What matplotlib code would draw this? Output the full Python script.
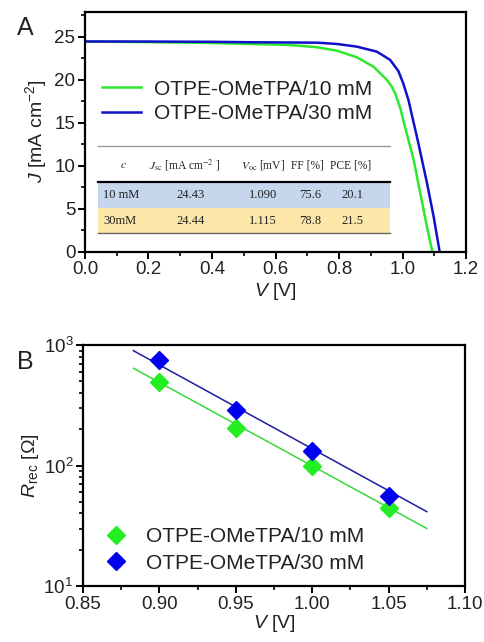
import numpy as np
import matplotlib
matplotlib.use("Agg")
import matplotlib.pyplot as plt
from matplotlib.patches import Rectangle
from matplotlib.lines import Line2D
from matplotlib.ticker import MultipleLocator, LogLocator, NullFormatter

plt.rcParams['font.family'] = ['Liberation Sans', 'DejaVu Sans']
plt.rcParams['mathtext.fontset'] = 'custom'
plt.rcParams['mathtext.rm'] = 'Liberation Sans'
plt.rcParams['mathtext.it'] = 'Liberation Sans:italic'

# J-V curves
v_10 = [0.0, 0.2, 0.4, 0.52, 0.646, 0.73, 0.793, 0.856, 0.909, 0.951, 0.965, 0.977, 0.993,
        1.008, 1.035, 1.056, 1.077, 1.094]
j_10 = [24.43, 24.36, 24.26, 24.15, 24.03, 23.77, 23.37, 22.6, 21.5, 19.97, 19.25, 18.4, 16.7,
        14.5, 10.7, 6.8, 2.9, 0.0]
v_30 = [0.0, 0.2, 0.4, 0.52, 0.73, 0.793, 0.856, 0.919, 0.961, 0.987, 1.003, 1.019, 1.05,
        1.077, 1.098, 1.117]
j_30 = [24.44, 24.43, 24.4, 24.35, 24.3, 24.15, 23.84, 23.26, 22.3, 21.0, 19.5, 17.6, 12.6,
        8.0, 4.1, 0.0]

# photovoltaic parameters table
table_header = ["$c$", "$J_{\\rm sc}$ [mA cm$^{-2}$ ]", "$V_{\\rm oc}$ [mV]", "FF [%]", "PCE [%]"]
table_rows = [["10 mM", "24.43", "1.090", "75.6", "20.1"],
              ["30mM", "24.44", "1.115", "78.8", "21.5"]]

# recombination resistance, panel B
v_rec = [0.90, 0.95, 1.00, 1.05]
r_10 = [495, 204, 100, 44]
r_30 = [752, 289, 133, 56]
# linear fits on log scale, end points as drawn
v_fit = [0.883, 1.075]
fit_10 = [641, 30]
fit_30 = [897, 41.4]

labels = ["OTPE-OMeTPA/10 mM", "OTPE-OMeTPA/30 mM"]
green = "#2ee82e"
blue = "#1010c8"
txt = "#222222"

fig = plt.figure(figsize=(4.85, 6.42), dpi=100)

def style_axes(ax):
    for s in ax.spines.values():
        s.set_linewidth(1.6)
    ax.tick_params(which='major', direction='out', length=5, width=1.4, labelsize=13.5,
                   colors='black', labelcolor=txt, pad=2)
    ax.tick_params(which='minor', direction='out', length=3, width=1.2)
    ax.tick_params(top=False, right=False, which='both')

# ---------- panel A ----------
axA = fig.add_axes([85/485, 1-251.7/642, 381/485, 240/642])
axA.plot(v_10, j_10, color=green, lw=1.8, label=labels[0], solid_joinstyle='round')
axA.plot(v_30, j_30, color=blue, lw=1.8, label=labels[1], solid_joinstyle='round')
axA.set_xlim(0, 1.2)
axA.set_ylim(0, 27.9)
axA.xaxis.set_major_locator(MultipleLocator(0.2))
axA.xaxis.set_minor_locator(MultipleLocator(0.1))
axA.yaxis.set_major_locator(MultipleLocator(5))
axA.yaxis.set_minor_locator(MultipleLocator(2.5))
axA.xaxis.set_major_formatter(plt.FormatStrFormatter('%.1f'))
style_axes(axA)
axA.set_xlabel("$V$ [V]", fontsize=14, color=txt, labelpad=2)
axA.set_ylabel("$J$ [mA cm$^{-2}$]", fontsize=14, color=txt, labelpad=4)
axA.legend(loc='upper left', bbox_to_anchor=(-0.005, 0.795), frameon=False, fontsize=15,
           handlelength=1.9, handletextpad=0.6, labelspacing=0.28, labelcolor=txt)

# table
tr = axA.transAxes
x_left, x_right = 0.033, 0.80
y_top, y_thick, y_mid, y_bot = 0.442, 0.292, 0.181, 0.077
axA.add_patch(Rectangle((x_left, y_mid), x_right - x_left, y_thick - y_mid, transform=tr,
                        facecolor="#c6d6ec", edgecolor='none', zorder=3))
axA.add_patch(Rectangle((x_left, y_bot), x_right - x_left, y_mid - y_bot, transform=tr,
                        facecolor="#fce7a9", edgecolor='none', zorder=3))
axA.add_line(Line2D([x_left, x_right], [y_top, y_top], transform=tr, color="#9a9a9a", lw=1.0, zorder=4))
axA.add_line(Line2D([x_left, x_right], [y_thick, y_thick], transform=tr, color="black", lw=1.6, zorder=4))
axA.add_line(Line2D([x_left, x_right], [y_bot, y_bot], transform=tr, color="#666666", lw=1.0, zorder=4))
head_x = [0.10, 0.262, 0.467, 0.585, 0.697]
for x, h in zip(head_x, table_header):
    axA.text(x, 0.361, h, transform=tr, ha='center', va='center', fontsize=8.3,
             family='Liberation Serif', math_fontfamily='stix', color=txt, zorder=5)
col_x = [0.047, 0.276, 0.467, 0.59, 0.703]
for row, y in zip(table_rows, [0.236, 0.128]):
    for i, (x, s) in enumerate(zip(col_x, row)):
        axA.text(x, y, s, transform=tr, ha='left' if i == 0 else 'center', va='center',
                 fontsize=9, family='Liberation Serif', color=txt, zorder=5)

fig.text(25/485, 1-28/642, "A", fontsize=18, ha='center', va='center', color=txt)

# ---------- panel B ----------
axB = fig.add_axes([83/485, 1-586/642, 382/485, 241/642])
axB.plot(v_fit, fit_10, color="#3ad83a", lw=1.1, zorder=2)
axB.plot(v_fit, fit_30, color="#1c1ca0", lw=1.1, zorder=2)
axB.plot(v_rec, r_10, 'D', color="#22ee22", ms=9, ls='none', label=labels[0], zorder=3)
axB.plot(v_rec, r_30, 'D', color="#0000ee", ms=9, ls='none', label=labels[1], zorder=3)
axB.set_yscale('log')
axB.set_xlim(0.85, 1.10)
axB.set_ylim(10, 1000)
axB.xaxis.set_major_locator(MultipleLocator(0.05))
axB.xaxis.set_minor_locator(MultipleLocator(0.025))
axB.xaxis.set_major_formatter(plt.FormatStrFormatter('%.2f'))
axB.yaxis.set_minor_locator(LogLocator(base=10, subs=np.arange(2, 10)))
axB.yaxis.set_minor_formatter(NullFormatter())
style_axes(axB)
axB.set_xlabel("$V$ [V]", fontsize=14, color=txt, labelpad=0)
axB.set_ylabel("$R_{\\rm rec}$ [$\\Omega$]", fontsize=14, color=txt, labelpad=2)
axB.legend(loc='lower left', bbox_to_anchor=(-0.004, -0.022), frameon=False, fontsize=15,
           handlelength=1.5, handletextpad=0.7, labelspacing=0.36, labelcolor=txt)

fig.text(25/485, 1-361.7/642, "B", fontsize=18, ha='center', va='center', color=txt)

fig.savefig("out.png", dpi=100)
